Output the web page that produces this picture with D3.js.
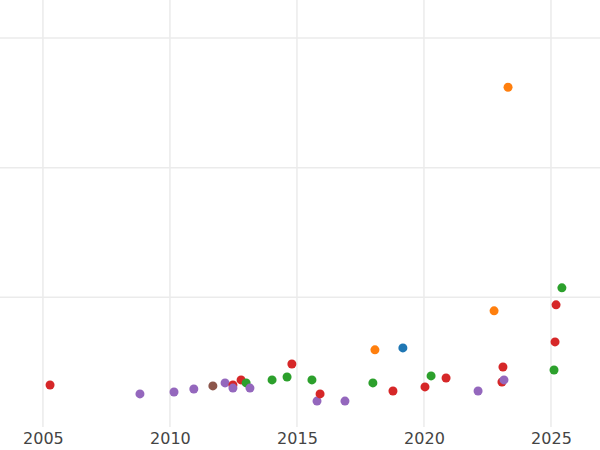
<!DOCTYPE html>
<html><head><meta charset="utf-8">
<script src="https://cdn.jsdelivr.net/npm/d3@7"></script>
<style>body{margin:0;background:#fff}</style></head>
<body><svg id="c" width="600" height="450"></svg>
<script>
const years=[2005.28,2008.82,2010.16,2010.94,2011.69,2012.17,2012.48,2012.48,2012.8,2013.0,2013.15,2014.02,2014.61,2014.8,2015.59,2015.79,2015.91,2016.89,2017.99,2018.07,2018.78,2019.17,2020.04,2020.28,2020.87,2022.13,2022.76,2023.07,2023.15,2023.11,2023.31,2025.12,2025.16,2025.2,2025.43];
const values=[0.324,0.255,0.27,0.293,0.317,0.34,0.324,0.30,0.363,0.34,0.30,0.363,0.386,0.486,0.363,0.20,0.255,0.20,0.34,0.595,0.278,0.61,0.309,0.394,0.378,0.278,0.896,0.347,0.363,0.463,2.62,0.44,0.656,0.942,1.073];
const groups=["red","purple","purple","purple","brown","purple","red","purple","red","green","purple","green","green","red","green","purple","red","purple","green","orange","red","blue","red","green","red","purple","orange","red","purple","red","orange","green","red","red","green"];
const palette={blue:"#1f77b4",orange:"#ff7f0e",green:"#2ca02c",red:"#d62728",purple:"#9467bd",brown:"#8c564b"};
const xTicks=[2005,2010,2015,2020,2025];
const yGrid=[1,2,3];
const svg=d3.select("#c");
const x=d3.scaleLinear().domain([2003.31,2026.93]).range([0,600]);
const y=d3.scaleLinear().domain([0,3]).range([427,38]);
svg.append("g").selectAll("line").data(xTicks).join("line")
 .attr("x1",d=>x(d)).attr("x2",d=>x(d)).attr("y1",0).attr("y2",427)
 .attr("stroke","#ebebeb").attr("stroke-width",1.5);
svg.append("g").selectAll("line").data(yGrid).join("line")
 .attr("x1",0).attr("x2",600).attr("y1",d=>y(d)).attr("y2",d=>y(d))
 .attr("stroke","#ebebeb").attr("stroke-width",1.5);
const ax=svg.append("g").attr("transform","translate(0,427)")
 .call(d3.axisBottom(x).tickValues(xTicks).tickFormat(d3.format("d")).tickSize(0).tickPadding(6));
ax.select(".domain").remove();
ax.selectAll("text").attr("font-family","DejaVu Sans").attr("font-size",16).attr("fill","#444");
svg.append("g").selectAll("circle").data(years).join("circle")
 .attr("cx",d=>x(d)).attr("cy",(d,i)=>y(values[i])).attr("r",4.5)
 .attr("fill",(d,i)=>palette[groups[i]]);
</script></body></html>
